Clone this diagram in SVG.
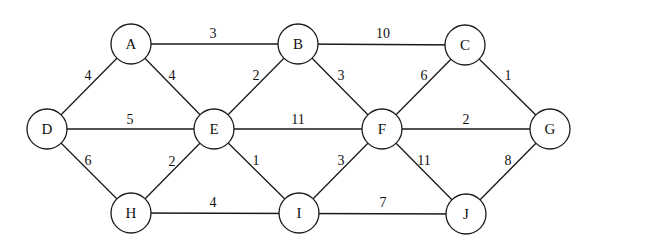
<svg xmlns="http://www.w3.org/2000/svg" width="646" height="247" viewBox="0 0 646 247">
<style>
.e{stroke:#1a1a1a;stroke-width:1.3;fill:none}
.n circle{fill:#fff;stroke:#1a1a1a;stroke-width:1.3}
.n text{font-family:"Liberation Serif",serif;font-size:15px;text-anchor:middle;dominant-baseline:central;fill:#111}
.l{font-family:"Liberation Serif",serif;font-size:14px;text-anchor:middle;dominant-baseline:central;fill:#111}
</style>
<rect width="646" height="247" fill="#fff"/>
<g id="connectors">
<line class="e" x1="131" y1="44" x2="298" y2="44"/>
<line class="e" x1="298" y1="44" x2="465" y2="45"/>
<line class="e" x1="131" y1="44" x2="47" y2="129"/>
<line class="e" x1="131" y1="44" x2="214" y2="129"/>
<line class="e" x1="298" y1="44" x2="214" y2="129"/>
<line class="e" x1="298" y1="44" x2="382" y2="129"/>
<line class="e" x1="465" y1="45" x2="382" y2="129"/>
<line class="e" x1="465" y1="45" x2="550" y2="129"/>
<line class="e" x1="47" y1="129" x2="550" y2="129"/>
<line class="e" x1="47" y1="129" x2="131" y2="213"/>
<line class="e" x1="214" y1="129" x2="131" y2="213"/>
<line class="e" x1="214" y1="129" x2="299" y2="213"/>
<line class="e" x1="382" y1="129" x2="299" y2="213"/>
<line class="e" x1="382" y1="129" x2="466" y2="214"/>
<line class="e" x1="550" y1="129" x2="466" y2="214"/>
<line class="e" x1="131" y1="213" x2="466" y2="214"/>
<text class="l" x="213" y="33">3</text>
<text class="l" x="383" y="33">10</text>
<text class="l" x="88" y="75">4</text>
<text class="l" x="172" y="75">4</text>
<text class="l" x="256" y="75">2</text>
<text class="l" x="341" y="75">3</text>
<text class="l" x="424" y="75">6</text>
<text class="l" x="508" y="75">1</text>
<text class="l" x="130" y="119">5</text>
<text class="l" x="298" y="119">11</text>
<text class="l" x="466" y="119">2</text>
<text class="l" x="88" y="160">6</text>
<text class="l" x="172" y="161">2</text>
<text class="l" x="256" y="160">1</text>
<text class="l" x="341" y="160">3</text>
<text class="l" x="424" y="160">11</text>
<text class="l" x="508" y="160">8</text>
<text class="l" x="213" y="202">4</text>
<text class="l" x="383" y="202">7</text>
</g>
<g id="A" class="n"><circle cx="131" cy="44" r="20"/><text x="131" y="44">A</text></g>
<g id="B" class="n"><circle cx="298" cy="44" r="20"/><text x="298" y="44">B</text></g>
<g id="C" class="n"><circle cx="465" cy="45" r="20"/><text x="465" y="45">C</text></g>
<g id="D" class="n"><circle cx="47" cy="129" r="20"/><text x="47" y="129">D</text></g>
<g id="E" class="n"><circle cx="214" cy="129" r="20"/><text x="214" y="129">E</text></g>
<g id="F" class="n"><circle cx="382" cy="129" r="20"/><text x="382" y="129">F</text></g>
<g id="G" class="n"><circle cx="550" cy="129" r="20"/><text x="550" y="129">G</text></g>
<g id="H" class="n"><circle cx="131" cy="213" r="20"/><text x="131" y="213">H</text></g>
<g id="I" class="n"><circle cx="299" cy="213" r="20"/><text x="299" y="213">I</text></g>
<g id="J" class="n"><circle cx="466" cy="214" r="20"/><text x="466" y="214">J</text></g>
</svg>
